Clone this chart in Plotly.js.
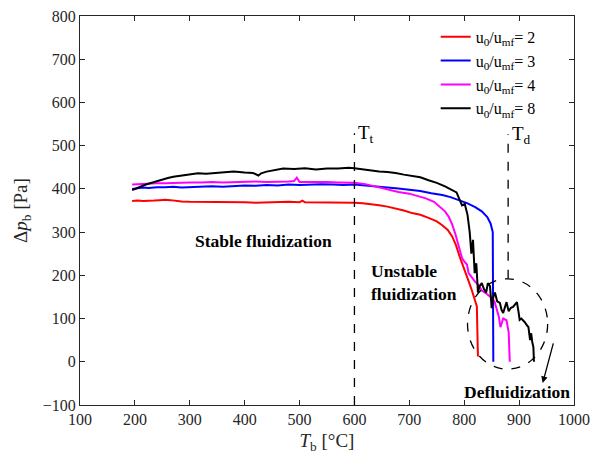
<!DOCTYPE html>
<html>
<head>
<meta charset="utf-8">
<script src="https://cdn.plot.ly/plotly-3.0.1.min.js"></script>
<style>
  html, body { margin: 0; padding: 0; background: #fff; }
  #chart { width: 593px; height: 459px; }
</style>
</head>
<body>
<div id="chart"></div>
<script>
// Bed pressure drop versus bed temperature for four gas velocities

// u0/umf = 2
const tb2 = [195,205,215,225,235,245,255,265,275,285,300,320,340,360,380,400,420,440,460,480,500,505,510,530,550,570,590,600,615,630,645,660,675,690,705,720,735,750,760,770,778,785,792,800,807,814,819,823,825];
const dp2 = [372,373,372,372,373,374,375,374,372,371,370,370,369,370,369,369,368,369,369,370,369,373,369,369,369,368,369,368,367,365,362,359,355,350,344,340,333,325,316,305,290,270,242,212,190,165,145,128,12];

// u0/umf = 3
const tb3 = [195,205,215,225,240,255,270,285,300,320,340,360,380,400,420,440,460,480,500,520,540,560,580,600,620,640,660,680,700,720,740,760,775,790,805,820,832,842,848,852,853];
const dp3 = [400,402,403,402,404,404,405,403,404,405,406,405,407,408,407,409,408,410,409,410,411,410,409,410,408,405,403,401,398,395,390,386,381,374,367,358,348,335,320,300,0];

// u0/umf = 4
const tb4 = [195,205,215,225,240,255,270,285,300,320,340,360,380,400,420,440,460,480,490,495,500,510,530,550,570,590,600,620,640,660,680,700,715,730,745,755,765,772,778,784,790,796,800,805,808,814,820,826,832,840,848,855,858,863,866,871,877,881,883];
const dp4 = [410,411,412,412,413,413,414,414,415,415,416,415,416,416,417,416,416,417,418,426,416,416,417,416,415,414,414,411,405,399,393,389,384,378,370,360,348,335,318,295,270,240,232,225,205,195,185,178,165,158,150,140,128,105,80,100,96,68,0];

// u0/umf = 8
const tb8 = [195,200,210,220,230,240,250,260,270,285,300,315,330,345,360,380,400,415,425,430,440,455,470,490,510,530,550,570,590,600,615,630,645,660,675,690,705,720,735,750,765,778,786,792,796,801,806,810,813,816,819,822,825,828,832,836,840,843,847,850,853,856,860,865,868,871,874,877,881,885,889,893,896,899,901,904,907,910,914,917,920,922,924,926,927];
const dp8 = [397,400,405,410,414,417,421,425,428,431,434,436,435,437,439,440,438,437,431,436,440,443,447,446,448,445,447,447,449,448,445,443,440,439,437,433,430,427,420,414,406,398,392,374,362,365,340,300,250,282,205,228,160,175,182,168,160,182,175,124,150,160,140,136,120,113,125,138,117,125,127,132,138,115,97,100,97,92,85,80,50,66,45,34,0];

const seriesNames = ['u<sub>0</sub>/u<sub>mf</sub>= 2', 'u<sub>0</sub>/u<sub>mf</sub>= 3', 'u<sub>0</sub>/u<sub>mf</sub>= 4', 'u<sub>0</sub>/u<sub>mf</sub>= 8'];
const seriesColors = ['#ff0000', '#0000ff', '#ff00ff', '#000000'];

// Characteristic temperatures
const tTransition = 600;
const tDefluid = 880;

const serif = '"Liberation Serif", "Times New Roman", "DejaVu Serif", serif';

const xs = [tb2, tb3, tb4, tb8];
const ys = [dp2, dp3, dp4, dp8];
const traces = xs.map((x, i) => ({
  x: x, y: ys[i], type: 'scatter', mode: 'lines',
  name: seriesNames[i],
  line: { color: seriesColors[i], width: 2 }
}));

const axisCommon = {
  showgrid: false, zeroline: false,
  showline: true, linecolor: '#262626', linewidth: 1,
  mirror: 'ticks', ticks: 'inside', ticklen: 5, tickcolor: '#262626',
  tickfont: { family: serif, size: 16, color: '#262626' }
};

const layout = {
  width: 593, height: 459,
  margin: { l: 80, r: 19, t: 16, b: 54 },
  paper_bgcolor: '#fff', plot_bgcolor: '#fff',
  font: { family: serif },
  showlegend: true,
  legend: {
    x: 0.72, xanchor: 'left', y: 0.99, yanchor: 'top',
    bgcolor: 'rgba(255,255,255,0)',
    font: { family: serif, size: 16, color: '#000' },
    tracegroupgap: 0
  },
  xaxis: Object.assign({}, axisCommon, {
    range: [100, 1000], dtick: 100, tick0: 100,
    title: { text: '<i>T</i><sub>b</sub> [°C]', font: { family: serif, size: 19, color: '#262626' }, standoff: 6 }
  }),
  yaxis: Object.assign({}, axisCommon, {
    range: [-100, 800], dtick: 100, tick0: -100,
    title: { text: 'Δ<i>p</i><sub>b</sub> [Pa]', font: { family: serif, size: 19, color: '#262626' }, standoff: 10 }
  }),
  shapes: [
    { type: 'line', xref: 'x', yref: 'y', x0: tTransition, x1: tTransition, y0: -100, y1: 529,
      line: { color: '#000', width: 1.3, dash: 'dash' } },
    { type: 'line', xref: 'x', yref: 'y', x0: tDefluid, x1: tDefluid, y0: 192, y1: 527,
      line: { color: '#000', width: 1.3, dash: 'dash' } },
    { type: 'circle', xref: 'x', yref: 'y', x0: 806, x1: 952, y0: -17, y1: 192,
      line: { color: '#000', width: 1.3, dash: 'dash' } }
  ],
  annotations: [
    { x: tTransition, y: 527, xref: 'x', yref: 'y', xanchor: 'left', yanchor: 'middle', xshift: 2,
      text: 'T<sub>t</sub>', showarrow: false, font: { family: serif, size: 19, color: '#000' } },
    { x: tDefluid, y: 525, xref: 'x', yref: 'y', xanchor: 'left', yanchor: 'middle', xshift: 2,
      text: 'T<sub>d</sub>', showarrow: false, font: { family: serif, size: 19, color: '#000' } },
    { x: 435, y: 280, xref: 'x', yref: 'y', xanchor: 'center', yanchor: 'middle',
      text: '<b>Stable fluidization</b>', showarrow: false, font: { family: serif, size: 17.5, color: '#000' } },
    { x: 626, y: 183, xref: 'x', yref: 'y', xanchor: 'left', yanchor: 'middle', align: 'left',
      text: '<b>Unstable<br>fluidization</b>', showarrow: false, font: { family: serif, size: 17.5, color: '#000' } },
    { x: 997, y: -71, xref: 'x', yref: 'y', xanchor: 'right', yanchor: 'middle',
      text: '<b>Defluidization</b>', showarrow: false, font: { family: serif, size: 17.5, color: '#000' } },
    { x: 943, y: -49, ax: 963, ay: 46, xref: 'x', yref: 'y', axref: 'x', ayref: 'y',
      text: '', showarrow: true, arrowhead: 2, arrowsize: 1, arrowwidth: 1.3, arrowcolor: '#000' }
  ]
};

Plotly.newPlot('chart', traces, layout, { displayModeBar: false, staticPlot: true });
</script>
</body>
</html>
